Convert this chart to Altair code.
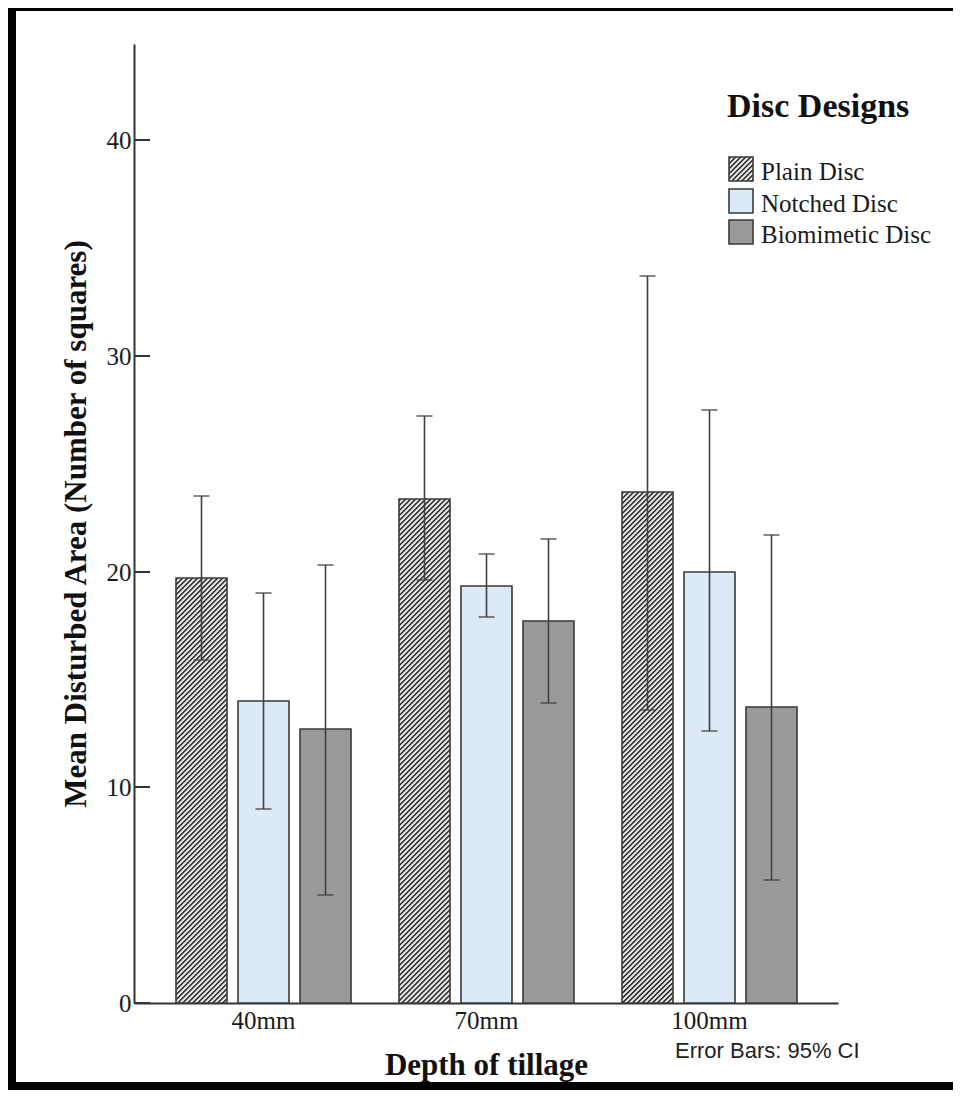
import math
import altair as alt
import pandas as pd

# ---------------- data ----------------
depths = ["40mm", "70mm", "100mm"]
designs = ["Plain Disc", "Notched Disc", "Biomimetic Disc"]
plain_mean = [19.7, 23.35, 23.7]
plain_lo = [15.9, 19.6, 13.6]
plain_hi = [23.5, 27.2, 33.7]
notched_mean = [14.0, 19.35, 20.0]
notched_lo = [9.0, 17.9, 12.6]
notched_hi = [19.0, 20.8, 27.5]
bio_mean = [12.7, 17.7, 13.7]
bio_lo = [5.0, 13.9, 5.7]
bio_hi = [20.3, 21.5, 21.7]
y_ticks = [0, 10, 20, 30, 40]

rows = []
for name, m, lo, hi in [
    ("Plain Disc", plain_mean, plain_lo, plain_hi),
    ("Notched Disc", notched_mean, notched_lo, notched_hi),
    ("Biomimetic Disc", bio_mean, bio_lo, bio_hi),
]:
    for d, a, b, c in zip(depths, m, lo, hi):
        rows.append({"depth": d, "design": name, "mean": a, "lower": b, "upper": c})
df = pd.DataFrame(rows)

# ---------------- layout / style ----------------
W, H = 704, 959
Y_MAX = 44.45
X_PO = 0.0777
OFF_PI, OFF_PO = 0.184, 0.3776
SERIF = "Liberation Serif"
SANS = "Liberation Sans"
AX = "#333333"
BAR_STROKE = "#3a3a3a"
Y_TITLE = "Mean Disturbed Area (Number of squares)"
X_TITLE = "Depth of tillage"

px_per_unit = H / Y_MAX
x_step = math.floor(W / (3 + 2 * X_PO))
sub_step = math.floor(x_step / (3 - OFF_PI + 2 * OFF_PO))
bar_w = round(sub_step * (1 - OFF_PI))

HATCH_PERIOD = 5 / math.sqrt(2)   # 5 px horizontal / vertical repeat
SEG_PX = 60                       # hatch drawn in 60 px tall pieces


def hatch(w, h, period=HATCH_PERIOD, dark="#303030", light="#e6e6e6"):
    """45-degree '/' hatch as a soft-edged linear gradient for a w x h box."""
    diag = (w + h) / math.sqrt(2)
    n = diag / period
    k = (w + h) / (w * w + h * h)
    profile = [(0.0, light), (0.24, dark), (0.44, dark), (0.68, light), (1.0, light)]
    stops = []
    i = 0
    while i < n:
        for f, col in profile:
            off = min((i + f) / n, 1.0)
            stops.append(alt.GradientStop(offset=off, color=col))
        i += 1
    return alt.LinearGradient(gradient="linear", stops=stops, x1=0, y1=0, x2=k * w, y2=k * h)


xscale = alt.Scale(domain=depths, paddingInner=0, paddingOuter=X_PO, round=True)
oscale = alt.Scale(domain=designs, paddingInner=OFF_PI, paddingOuter=OFF_PO, round=True)
yscale = alt.Scale(domain=[0, Y_MAX], nice=False, zero=True, round=True)

x_axis = alt.Axis(
    labelAngle=0, ticks=False, tickSize=0, labelPadding=5,
    labelFont=SERIF, labelFontSize=25, labelColor="#1a1a1a",
    titleFont=SERIF, titleFontSize=31, titleFontWeight="bold",
    titleColor="#111111", titlePadding=17,
    domainColor=AX, domainWidth=2,
)
y_axis = alt.Axis(
    values=y_ticks, ticks=False, tickSize=0, grid=False, labelPadding=3,
    labelFont=SERIF, labelFontSize=25, labelColor="#1a1a1a",
    titleFont=SERIF, titleFontSize=31, titleFontWeight="bold",
    titleColor="#111111", titlePadding=14,
    domainColor=AX, domainWidth=2,
)


def X():
    return alt.X("depth:N", scale=xscale, axis=x_axis, title=X_TITLE)


def Y(field):
    return alt.Y(f"{field}:Q", scale=yscale, axis=y_axis, title=Y_TITLE)


off_enc = alt.XOffset("design:N", scale=oscale)

layers = []

# ---- hatched plain bars, drawn in equal pieces from the bar top down ----
seg_units = SEG_PX / px_per_unit
full_rows, part_rows = [], []
for d, m in zip(depths, plain_mean):
    j = 0
    while True:
        top = m - j * seg_units
        bot = m - (j + 1) * seg_units
        if bot > 0:
            full_rows.append({"depth": d, "design": "Plain Disc", "top": top, "bot": bot})
            j += 1
        else:
            part_rows.append({"depth": d, "design": "Plain Disc", "top": top, "bot": 0.0})
            break

layers.append(
    alt.Chart(pd.DataFrame(full_rows))
    .mark_bar(fill=hatch(bar_w, SEG_PX), strokeWidth=0)
    .encode(x=X(), xOffset=off_enc, y=Y("top"), y2="bot:Q")
)
for r in part_rows:
    layers.append(
        alt.Chart(pd.DataFrame([r]))
        .mark_bar(fill=hatch(bar_w, r["top"] * px_per_unit), strokeWidth=0)
        .encode(x=X(), xOffset=off_enc, y=Y("top"), y2="bot:Q")
    )

# outline of plain bars
layers.append(
    alt.Chart(df)
    .transform_filter(alt.datum.design == "Plain Disc")
    .mark_bar(fillOpacity=0, stroke=BAR_STROKE, strokeWidth=1.6)
    .encode(x=X(), xOffset=off_enc, y=Y("mean"))
)

# notched and biomimetic bars
layers.append(
    alt.Chart(df)
    .transform_filter(alt.datum.design != "Plain Disc")
    .mark_bar(stroke=BAR_STROKE, strokeWidth=1.6)
    .encode(
        x=X(),
        xOffset=off_enc,
        y=Y("mean"),
        fill=alt.Fill(
            "design:N",
            scale=alt.Scale(domain=["Notched Disc", "Biomimetic Disc"],
                            range=["#dce9f7", "#9a9a9a"]),
            legend=None,
        ),
    )
)

# error bars
layers.append(
    alt.Chart(df)
    .mark_rule(color="#404040", strokeWidth=1.6)
    .encode(x=X(), xOffset=off_enc, y=Y("lower"), y2="upper:Q")
)
for fld in ["lower", "upper"]:
    layers.append(
        alt.Chart(df)
        .mark_tick(color="#404040", thickness=1.8, size=16, orient="horizontal")
        .encode(x=X(), xOffset=off_enc, y=Y(fld))
    )

# inward y ticks
layers.append(
    alt.Chart(pd.DataFrame({"t": y_ticks}))
    .mark_rule(color=AX, strokeWidth=2)
    .encode(x=alt.value(0), x2=alt.value(16), y=Y("t"))
)

one = pd.DataFrame({"a": [0]})

# legend
LX, LY = 595, 113
layers.append(
    alt.Chart(one).mark_text(text="Disc Designs", align="left", baseline="alphabetic",
                             font=SERIF, fontSize=34, fontWeight="bold", color="#111111")
    .encode(x=alt.value(LX - 2), y=alt.value(LY - 40))
)
legend_fills = [hatch(24, 24), "#dce9f7", "#9a9a9a"]
for i, (name, f) in enumerate(zip(designs, legend_fills)):
    top = LY + round(i * 31.5)
    layers.append(
        alt.Chart(one).mark_rect(fill=f, stroke=BAR_STROKE, strokeWidth=1.6)
        .encode(x=alt.value(LX), x2=alt.value(LX + 24), y=alt.value(top), y2=alt.value(top + 24))
    )
    layers.append(
        alt.Chart(one).mark_text(text=name, align="left", baseline="alphabetic",
                                 font=SERIF, fontSize=25, color="#1a1a1a")
        .encode(x=alt.value(LX + 32), y=alt.value(top + 23))
    )

# footnote
layers.append(
    alt.Chart(one).mark_text(text="Error Bars: 95% CI", align="left", baseline="alphabetic",
                             font=SANS, fontSize=22, color="#222222")
    .encode(x=alt.value(541), y=alt.value(1014))
)

# black frame
PL, PT, PR, PB = 126, 36, 115, 87
TOT_W, TOT_H = PL + W + PR, PT + H + PB
frame = [
    (-PL, -PL + 8, -PT, TOT_H - PT),               # left
    (-PL, TOT_W - PL, -PT, -PT + 3),               # top
    (-PL, TOT_W - PL, TOT_H - PT - 8, TOT_H - PT),  # bottom
]
for x0, x1, y0, y1 in frame:
    layers.append(
        alt.Chart(one).mark_rect(fill="#000000", clip=False)
        .encode(x=alt.value(x0), x2=alt.value(x1), y=alt.value(y0), y2=alt.value(y1))
    )

chart = (
    alt.layer(*layers)
    .properties(
        width=W, height=H,
        autosize=alt.AutoSizeParams(type="none"),
        padding={"left": PL, "top": PT, "right": PR, "bottom": PB},
        background="white",
    )
    .configure_view(stroke=None)
)

chart.save("out.html", embed_options={"renderer": "svg", "actions": False})
